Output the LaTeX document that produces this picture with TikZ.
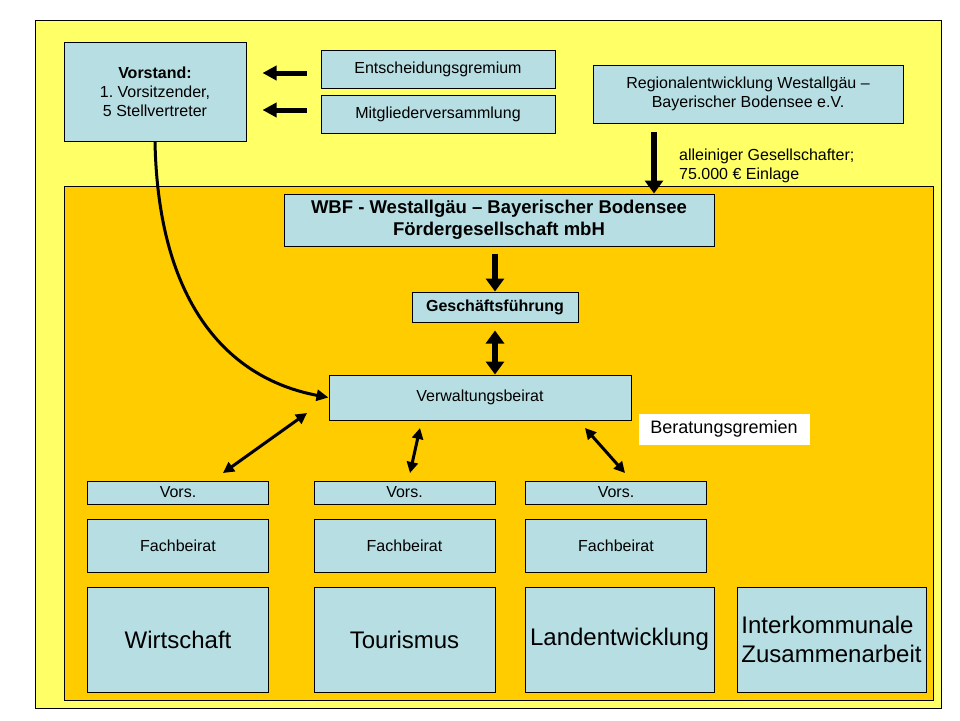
\documentclass[tikz,border=0pt]{standalone}
\usepackage{fontspec}
\setmainfont{Liberation Sans}
\usetikzlibrary{arrows.meta}
\definecolor{bgyellow}{RGB}{255,255,102}
\definecolor{orgorange}{RGB}{255,204,0}
\definecolor{boxblue}{RGB}{183,222,227}
\begin{document}
\begin{tikzpicture}[x=1pt, y=-1pt]
        \tikzstyle{box}=[draw, fill=boxblue, line width=1pt, inner sep=0pt, align=center, font=\fontsize{16}{19}\selectfont]
        \tikzstyle{blockarrow}=[line width=6pt, -{Triangle[length=13pt, width=18pt]}]
        \tikzstyle{thinarrow}=[line width=3pt, {Triangle[length=11pt, width=11pt]}-{Triangle[length=11pt, width=11pt]}]
        \useasboundingbox (0,0) rectangle (960,720);
        \draw [fill=bgyellow, line width=1pt] (35,20) rectangle (941,708);
        \draw [fill=orgorange, line width=1pt] (64,186) rectangle (933,700);

        \path (155,91.5) node[box, minimum width=182, minimum height=99] (vst) {\textbf{Vorstand:}\\1.\ Vorsitzender,\\5 Stellvertreter};
        \path (438,69) node[box, minimum width=234, minimum height=38] (ent) {Entscheidungsgremium};
        \path (438,114) node[box, minimum width=234, minimum height=38] (mgv) {Mitgliederversammlung};
        \path (748,94) node[box, minimum width=310, minimum height=58] (reg) {Regionalentwicklung Westallgäu --\\Bayerischer Bodensee e.V.};
        \path (499,220) node[box, minimum width=430, minimum height=52, font=\fontsize{18.5}{22}\selectfont\bfseries] (wbf) {WBF - Westallgäu -- Bayerischer Bodensee\\Fördergesellschaft mbH};
        \path (495,307) node[box, minimum width=166, minimum height=30, font=\fontsize{16}{18}\selectfont\bfseries] (gf) {Geschäftsführung};
        \path (480,397.5) node[box, minimum width=302, minimum height=45] (vb) {Verwaltungsbeirat};
        \path (724,429) node[fill=white, minimum width=171, minimum height=31, inner sep=0pt, font=\fontsize{18}{22}\selectfont] (bg) {Beratungsgremien};
        \path (679,166) node[anchor=west, inner sep=0pt, align=left, font=\fontsize{16}{18.5}\selectfont] (ges) {alleiniger Gesellschafter;\\75.000 € Einlage};

        \foreach \i/\x in {0/178, 1/404.5, 2/616}
        {
          \path (\x,492.5) node[box, minimum width=181, minimum height=23] (v\i) {Vors.};
          \path (\x,545.5) node[box, minimum width=181, minimum height=53] (f\i) {Fachbeirat};
        }

        \path (178,639.5) node[box, minimum width=181, minimum height=105, font=\fontsize{24}{29}\selectfont] (wi) {Wirtschaft};
        \path (404.5,639.5) node[box, minimum width=181, minimum height=105, font=\fontsize{24}{29}\selectfont] (to) {Tourismus};
        \path (619.5,639.5) node[box, minimum width=189, minimum height=105, font=\fontsize{24}{29}\selectfont] (le) {Landentwicklung};
        \path (831.5,639.5) node[box, minimum width=189, minimum height=105, align=left, font=\fontsize{24}{29}\selectfont] (ik) {Interkommunale\\Zusammenarbeit};

        \coordinate (rs) at (654,123);
        \coordinate (a0) at (223,473);
        \coordinate (b0) at (307,413);
        \coordinate (a1) at (410,473);
        \coordinate (b1) at (420,428);
        \coordinate (a2) at (625,473);
        \coordinate (b2) at (585,428);

        \draw [line width=5pt, -{Triangle[length=14pt, width=14pt]}, shorten <=14pt, shorten >=16pt]
          ([yshift=-4pt]ent.west) -- ([yshift=-4pt]vst.east |- ent.west);
        \draw [line width=5pt, -{Triangle[length=14pt, width=14pt]}, shorten <=14pt, shorten >=16pt]
          ([yshift=4pt]mgv.west) -- ([yshift=4pt]vst.east |- mgv.west);
        \draw [blockarrow, shorten <=9pt] (rs) -- (rs |- wbf.north);
        \draw [blockarrow, shorten <=7pt] (wbf.south -| gf.south) -- (gf.north);
        \draw [blockarrow, {Triangle[length=13pt, width=18pt]}-{Triangle[length=13pt, width=18pt]}, shorten <=8pt]
          (gf.south) -- (gf.south |- vb.north);
        \draw [line width=3pt, -{Triangle[length=12pt, width=11pt]}]
          (vst.south) .. controls (158,300) and (225,378) .. (vb.west);
        \foreach \k in {0, 1, 2}
        {
          \draw [thinarrow] (a\k) -- (b\k);
        }
      \end{tikzpicture}
\end{document}
